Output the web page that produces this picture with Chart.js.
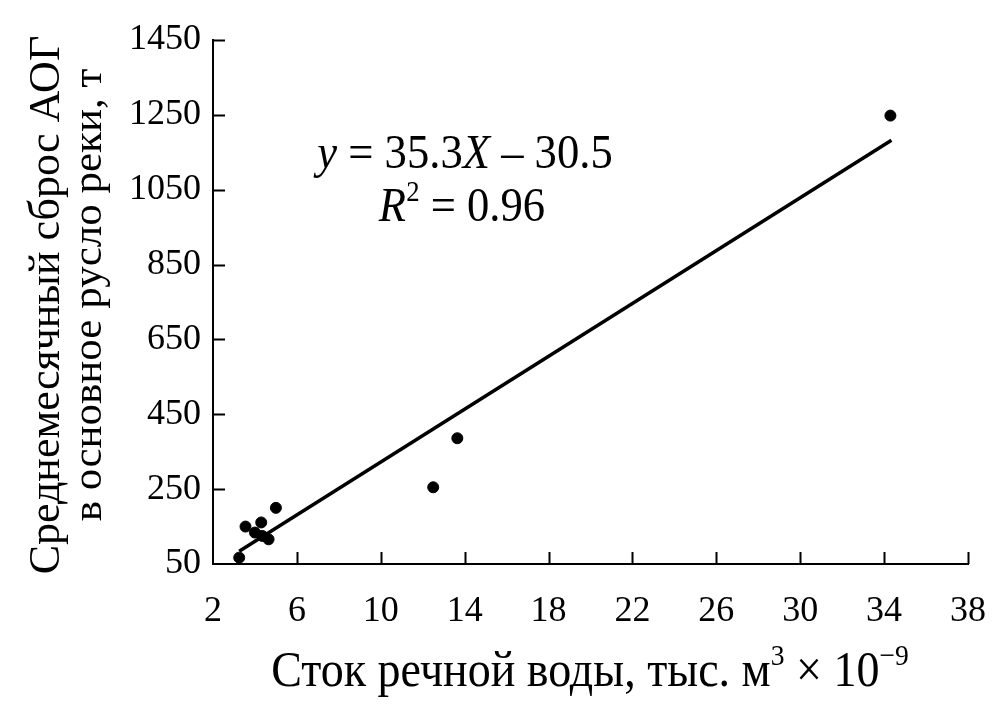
<!DOCTYPE html>
<html>
<head>
<meta charset="utf-8">
<script src="https://cdn.jsdelivr.net/npm/chart.js@4.4.1/dist/chart.umd.min.js"></script>
<style>
  html, body { margin: 0; padding: 0; background: #fff; }
  #wrap { width: 1002px; height: 720px; }
</style>
</head>
<body>
<div id="wrap"><canvas id="runoffChart" width="1002" height="720"></canvas></div>
<script>
// Данные (сток воды, сброс АОГ)
const flowX = [3.25, 3.55, 4.0, 4.3, 4.35, 4.65, 5.0, 12.5, 13.65, 34.3];
const dischargeY = [67, 150, 134, 161, 125, 116, 200, 255, 386, 1248];

// Линия тренда y = 35.3X - 30.5
const trendSlope = 35.3;
const trendIntercept = -30.5;
const trendRange = [3.25, 34.35];

const xTicks = [2, 6, 10, 14, 18, 22, 26, 30, 34, 38];
const yTicks = [50, 250, 450, 650, 850, 1050, 1250, 1450];

const SERIF = '"Liberation Serif", "Times New Roman", serif';

const points = flowX.map((x, i) => ({ x: x, y: dischargeY[i] }));
const trend = trendRange.map(x => ({ x: x, y: trendSlope * x + trendIntercept }));

// Рисует строку из кусков (курсив, верхний индекс)
function drawRuns(ctx, runs, x, y, size, sx) {
    let widths = runs.map(r => {
        ctx.font = (r.italic ? 'italic ' : '') + (r.sup ? size * 0.6 : size) + 'px ' + SERIF;
        return ctx.measureText(r.t).width;
    });
    let total = widths.reduce((a, b) => a + b, 0);
    ctx.save();
    ctx.translate(x, y);
    ctx.scale(sx, 1);
    let cx = -total / 2;
    ctx.fillStyle = '#000';
    ctx.textBaseline = 'alphabetic';
    ctx.textAlign = 'left';
    runs.forEach((r, i) => {
        ctx.font = (r.italic ? 'italic ' : '') + (r.sup ? size * 0.6 : size) + 'px ' + SERIF;
        ctx.fillText(r.t, cx, r.sup ? -size * 0.42 : 0);
        cx += widths[i];
    });
    ctx.restore();
}

const extras = {
    id: 'extras',
    afterDraw(chart) {
        const ctx = chart.ctx;
        const xs = chart.scales.x, ys = chart.scales.y;
        ctx.save();
        ctx.strokeStyle = '#000';
        ctx.lineWidth = 2;
        // засечки внутрь
        ctx.beginPath();
        xTicks.forEach(v => {
            if (v === xTicks[0]) return;
            const px = Math.round(xs.getPixelForValue(v)) + 0.5;
            ctx.moveTo(px, ys.bottom);
            ctx.lineTo(px, ys.bottom - 12);
        });
        yTicks.forEach(v => {
            if (v === yTicks[0]) return;
            const py = Math.round(ys.getPixelForValue(v)) + 0.5;
            ctx.moveTo(xs.left, py);
            ctx.lineTo(xs.left + 12, py);
        });
        ctx.stroke();

        // подпись оси X
        drawRuns(ctx, [
            { t: 'Сток речной воды, тыс. м' },
            { t: '3', sup: true },
            { t: ' × 10' },
            { t: '−9', sup: true }
        ], 590, 686, 50, 0.92);

        // подпись оси Y (две строки)
        ctx.save();
        ctx.translate(44, 305);
        ctx.rotate(-Math.PI / 2);
        drawRuns(ctx, [{ t: 'Среднемесячный сброс АОГ' }], 0, 15, 44, 1);
        ctx.restore();
        ctx.save();
        ctx.translate(86, 295);
        ctx.rotate(-Math.PI / 2);
        drawRuns(ctx, [{ t: 'в основное русло реки, т' }], 0, 15, 43, 1);
        ctx.restore();

        // уравнение регрессии
        drawRuns(ctx, [
            { t: 'y', italic: true },
            { t: ' = 35.3' },
            { t: 'X', italic: true },
            { t: ' – 30.5' }
        ], 465, 168, 48, 0.93);
        drawRuns(ctx, [
            { t: 'R', italic: true },
            { t: '2', sup: true },
            { t: ' = 0.96' }
        ], 462, 221, 48, 0.93);
        ctx.restore();
    }
};

const config = {
    type: 'scatter',
    data: {
        datasets: [
            {
                label: 'Данные',
                data: points,
                backgroundColor: '#000',
                borderColor: '#000',
                pointRadius: 5.5,
                pointHoverRadius: 5.5,
                order: 1
            },
            {
                label: 'Тренд',
                type: 'line',
                data: trend,
                borderColor: '#000',
                borderWidth: 3.5,
                pointRadius: 0,
                fill: false,
                order: 2
            }
        ]
    },
    options: {
        responsive: false,
        animation: false,
        layout: { padding: { top: 40, right: 34, left: 0, bottom: 0 } },
        plugins: {
            legend: { display: false },
            tooltip: { enabled: false }
        },
        scales: {
            x: {
                type: 'linear',
                min: 2,
                max: 38,
                afterBuildTicks: s => { s.ticks = xTicks.map(v => ({ value: v })); },
                afterFit: s => { s.height = 156; s.paddingLeft = 0; s.paddingRight = 0; },
                grid: { display: false, drawTicks: false },
                border: { display: true, color: '#000', width: 2 },
                ticks: {
                    color: '#000',
                    padding: 26,
                    maxRotation: 0,
                    font: { family: SERIF, size: 36 },
                    callback: v => String(v)
                }
            },
            y: {
                type: 'linear',
                min: 50,
                max: 1450,
                afterBuildTicks: s => { s.ticks = yTicks.map(v => ({ value: v })); },
                afterFit: s => { s.width = 213; s.paddingTop = 0; s.paddingBottom = 0; },
                grid: { display: false, drawTicks: false },
                border: { display: true, color: '#000', width: 2 },
                ticks: {
                    color: '#000',
                    padding: 12,
                    font: { family: SERIF, size: 36 },
                    callback: v => String(v)
                }
            }
        }
    },
    plugins: [extras]
};

new Chart(document.getElementById('runoffChart').getContext('2d'), config);
</script>
</body>
</html>
